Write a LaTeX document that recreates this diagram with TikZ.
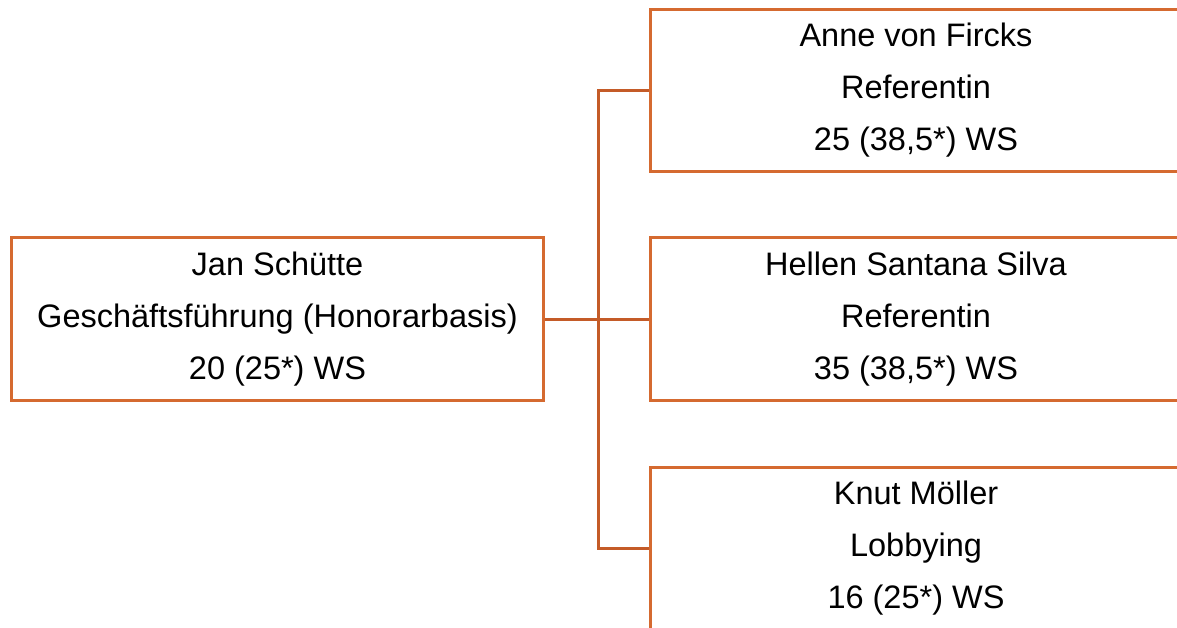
\documentclass[tikz,border=0pt]{standalone}
\usepackage{fontspec}
\setmainfont{Liberation Sans}
\definecolor{boxorange}{HTML}{D56A30}
\definecolor{lineorange}{HTML}{C45B28}
\tikzset{
  x=1pt, y=-1pt,
  person/.style={draw=boxorange, line width=3pt, minimum width=532pt, minimum height=162pt,
    align=center, inner sep=0pt, font=\fontsize{32.5}{52}\selectfont, text=black},
  link/.style={draw=lineorange, line width=3pt}
}
\begin{document}
\begin{tikzpicture}
\useasboundingbox (0,0) rectangle (1177,628);
\clip (0,0) rectangle (1177,628);
\node[person] (L) at (277.5,319) {Jan Schütte\\Geschäftsführung (Honorarbasis)\\20 (25*) WS};
\node[person] (A) at (916,90.5) {Anne von Fircks\\Referentin\\25 (38,5*) WS};
\node[person] (B) at (916,319) {Hellen Santana Silva\\Referentin\\35 (38,5*) WS};
\node[person] (C) at (916,548) {Knut Möller\\Lobbying\\16 (25*) WS};
\coordinate (J) at (598,319);
\draw[link] (L.east) -- (J);
\draw[link] (J) -- (B.west);
\draw[link] (J) |- (A.west);
\draw[link] (J) |- (C.west);
\end{tikzpicture}
\end{document}
